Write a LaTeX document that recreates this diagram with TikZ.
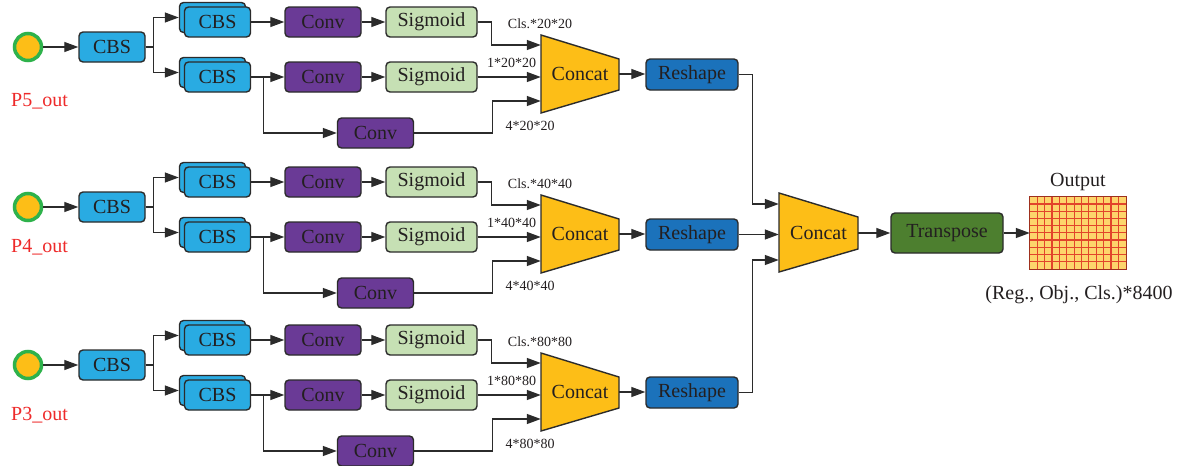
\documentclass[tikz,border=0pt]{standalone}
\usepackage{fontspec}
\setmainfont{Liberation Serif}
\usetikzlibrary{arrows.meta,calc}
\definecolor{ink}{HTML}{231F20}
\definecolor{edge}{HTML}{2B2B2B}
\definecolor{cbsblue}{HTML}{29ABE2}
\definecolor{convpurple}{HTML}{6A3A96}
\definecolor{sigGreen}{HTML}{C6E0B4}
\definecolor{catyellow}{HTML}{FDBE17}
\definecolor{reshapeblue}{HTML}{1B72BB}
\definecolor{transgreen}{HTML}{4D7F2F}
\definecolor{ringgreen}{HTML}{2EB24B}
\definecolor{labred}{HTML}{EE2A2A}
\definecolor{gridfill}{HTML}{FDD56B}
\definecolor{gridline}{HTML}{E2452B}
\begin{document}
\begin{tikzpicture}[x=1pt,y=-1pt,
  font=\fontsize{20}{24}\selectfont,
  box/.style={draw=edge,line width=1.4pt,rounded corners=4pt,text=ink,inner sep=0pt,minimum height=30pt},
  cbsbox/.style={box,fill=cbsblue,minimum width=66pt},
  convbox/.style={box,fill=convpurple,minimum width=76pt},
  sigbox/.style={box,fill=sigGreen,minimum width=91pt},
  reshapebox/.style={box,fill=reshapeblue,minimum width=92pt,minimum height=31pt},
  transbox/.style={box,fill=transgreen,minimum width=112pt,minimum height=40pt},
  catshape/.style={draw=edge,line width=1.4pt,fill=catyellow,line join=miter},
  catlabel/.style={inner sep=0pt,text=ink},
  source/.style={circle,fill=catyellow,draw=ringgreen,line width=3.5pt,minimum size=27pt,inner sep=0pt},
  link/.style={line width=1.3pt,draw=edge,-{Triangle[length=14pt,width=10pt]}},
  dimlabel/.style={font=\fontsize{14}{16}\selectfont,text=ink,inner sep=0pt},
  gridrule/.style={draw=gridline,line width=1.1pt},
]
\useasboundingbox (0,0) rectangle (1184,466);

% one detection head per feature level
\foreach \p/\dy/\s/\ly in {5/0/20/101, 4/160/40/247, 3/318/80/415} {
  \node[source] (in\p) at (28,47+\dy) {};
  \node[text=labred,inner sep=0pt] (lab\p) at (39.5,\ly) {P\p\_out};
  \node[cbsbox] (cbs\p) at (112,47+\dy) {CBS};
  % stacked CBS blocks
  \node[cbsbox] (cbsAb\p) at (212.5,17.5+\dy) {};
  \node[cbsbox] (cbsA\p) at (217.5,22+\dy) {CBS};
  \node[cbsbox] (cbsBb\p) at (212.5,72.5+\dy) {};
  \node[cbsbox] (cbsB\p) at (217.5,77+\dy) {CBS};
  \node[convbox] (convA\p) at (323,22+\dy) {Conv};
  \node[sigbox] (sigA\p) at (431.5,22+\dy) {Sigmoid};
  \node[convbox] (convB\p) at (323,77+\dy) {Conv};
  \node[sigbox] (sigB\p) at (431.5,77+\dy) {Sigmoid};
  \node[convbox] (convC\p) at (375.5,133+\dy) {Conv};
  % concat block
  \draw[catshape] (541,35+\dy) -- (619,59+\dy) -- (619,90+\dy) -- (541,113+\dy) -- cycle;
  \node[catlabel,minimum width=78pt,minimum height=78pt] (cat\p) at (580,74+\dy) {Concat};
  \node[reshapebox] (rs\p) at (692,74.5+\dy) {Reshape};
  % tensor shapes
  \node[dimlabel] (dc\p) at (540,24+\dy) {Cls.*\s*\s};
  \node[dimlabel] (do\p) at (511.5,63+\dy) {1*\s*\s};
  \node[dimlabel] (dr\p) at (530,126+\dy) {4*\s*\s};
  % connectors
  \draw[link] (in\p) -- (cbs\p);
  \draw[link] (cbs\p.east) -- ++(8,0) |- (cbsAb\p.west);
  \draw[link] (cbs\p.east) -- ++(8,0) |- (cbsBb\p.west);
  \draw[link] (cbsA\p) -- (convA\p);
  \draw[link] (convA\p) -- (sigA\p);
  \draw[link] (cbsB\p) -- (convB\p);
  \draw[link] (convB\p) -- (sigB\p);
  \draw[link] (cbsB\p.east) -- ++(12,0) |- (convC\p.west);
  \draw[link] (sigA\p.east) -- ++(14,0) |- ($(cat\p.west)+(0,-29)$);
  \draw[link] (sigB\p.east) -- (sigB\p.east -| cat\p.west);
  \draw[link] (convC\p.east) -- ++(78,0) |- ($(cat\p.west)+(0,27)$);
  \draw[link] (cat\p.east) -- (cat\p.east -| rs\p.west);
}

% final merge
\draw[catshape] (779,193) -- (858,217) -- (858,249) -- (779,272) -- cycle;
\node[catlabel,minimum width=79pt,minimum height=79pt] (bigcat) at (818.5,233) {Concat};
\node[transbox] (trans) at (947,233) {Transpose};

% output tensor grid
\node[fill=gridfill,inner sep=0pt,minimum width=96pt,minimum height=72pt] (out) at (1078,233) {};
\foreach \i in {1,...,12} \draw[gridrule] ($(out.north west)+(\i*96/13,0)$) -- ++(0,72);
\foreach \j in {1,...,9} \draw[gridrule] ($(out.north west)+(0,\j*7.2)$) -- ++(96,0);
\draw[draw=gridline!70!black,line width=1.1pt] (out.north west) rectangle (out.south east);
\node[text=ink,inner sep=0pt] (outtitle) at (1078,182) {Output};
\node[text=ink,inner sep=0pt] (outshape) at (1079,295) {(Reg., Obj., Cls.)*8400};

\draw[link] (rs5.east) -- ++(14,0) |- ($(bigcat.west)+(0,-29)$);
\draw[link] (rs4.east) -- (rs4.east -| bigcat.west);
\draw[link] (rs3.east) -- ++(14,0) |- ($(bigcat.west)+(0,27)$);
\draw[link] (bigcat.east) -- (trans.west);
\draw[link] (trans.east) -- (out.west);
\end{tikzpicture}
\end{document}
